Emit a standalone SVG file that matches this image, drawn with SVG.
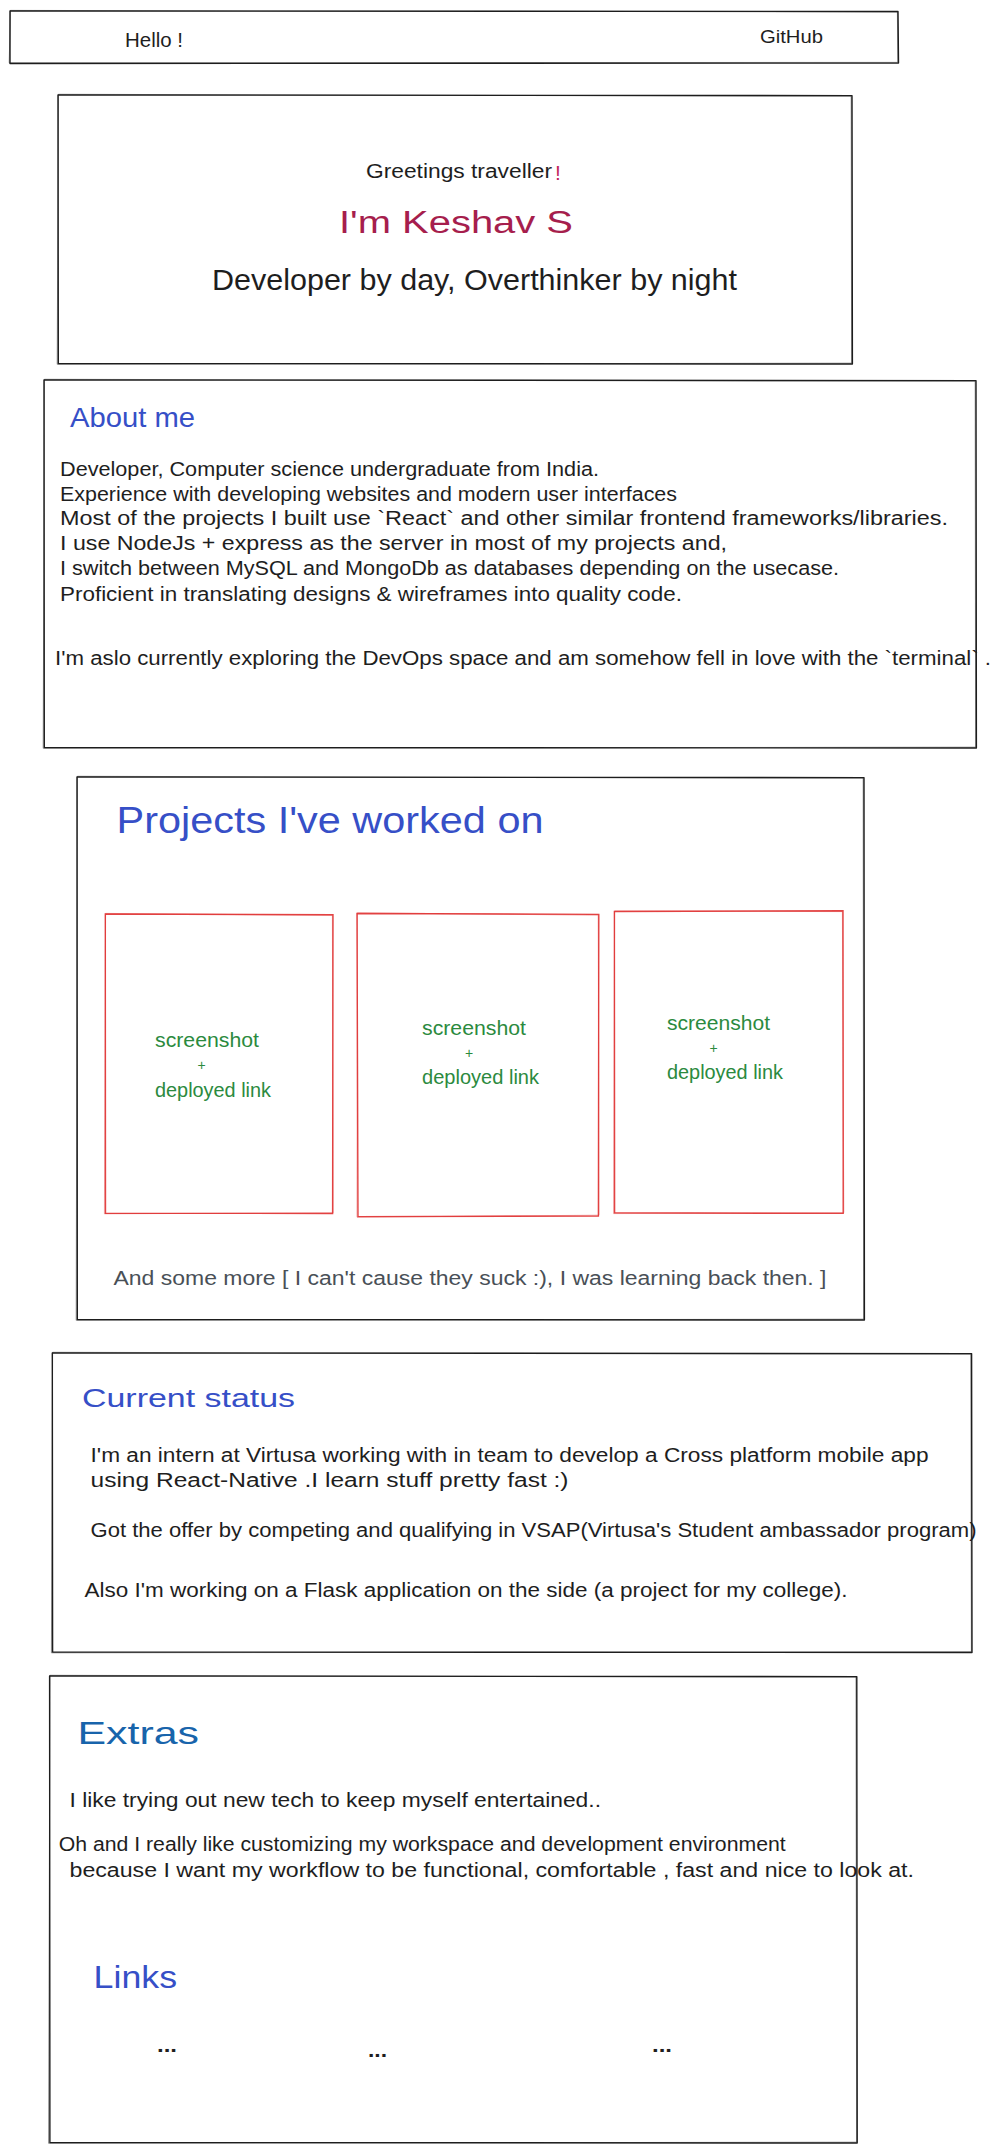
<svg xmlns="http://www.w3.org/2000/svg" width="1006" height="2153" viewBox="0 0 1006 2153">
  <style>
    .sketch { fill: none; stroke: #1e1e1e; stroke-width: 1.4; stroke-linejoin: round; stroke-linecap: round; }
    .sketch2 { fill: none; stroke: #1e1e1e; stroke-width: 0.9; stroke-opacity: 0.55; stroke-linecap: round; }
    .card { fill: none; stroke: #e03131; stroke-width: 1.4; stroke-opacity: 0.9; stroke-linecap: round; }
    .card2 { fill: none; stroke: #e03131; stroke-width: 0.9; stroke-opacity: 0.45; stroke-linecap: round; }
    text { font-family: "Liberation Sans", Arial, sans-serif; fill: #1e1e1e; }
    .t20 { font-size: 20px; }
    .t18 { font-size: 18px; }
    .blue { fill: #364fc7; }
    .navy { fill: #1864ab; }
    .green { fill: #2b8a3e; font-size: 20px; }
    .plus { fill: #2b8a3e; font-size: 14px; }
    .grey { fill: #495057; font-size: 20px; }
    .pink { fill: #a61e4d; }
  </style>

  <rect x="0" y="0" width="1006" height="2153" fill="#ffffff"/>

  <!-- top navigation bar -->
  <g id="navbar">
    <path class="sketch" d="M10,11 L898,11.5 L898.5,63 L10,63.5 Z"/>
    <path class="sketch2" d="M10.8,10.4 L897.4,12 L897.8,62.4 L9.6,62.8 Z"/>
    <text class="t20" x="125" y="47" textLength="58" lengthAdjust="spacingAndGlyphs">Hello !</text>
    <text class="t18" x="760" y="43" textLength="63" lengthAdjust="spacingAndGlyphs">GitHub</text>
  </g>

  <!-- hero / greeting -->
  <g id="hero">
    <path class="sketch" d="M58,95 L852,95.6 L852.4,364 L58.3,363.5 Z"/>
    <path class="sketch2" d="M58.8,94.3 L851.2,96.2 L851.6,363.2 L57.6,364.3 Z"/>
    <text class="t20" x="366" y="178" textLength="186" lengthAdjust="spacingAndGlyphs">Greetings traveller</text>
    <text x="555" y="180" font-size="21" fill="#c2255c" style="fill:#c2255c">!</text>
    <text class="pink" x="339" y="233" font-size="31" textLength="234" lengthAdjust="spacingAndGlyphs">I'm Keshav S</text>
    <text x="212" y="290" font-size="30" textLength="525" lengthAdjust="spacingAndGlyphs">Developer by day, Overthinker by night</text>
  </g>

  <!-- about section -->
  <g id="about">
    <path class="sketch" d="M44,380 L976,380.6 L976.4,748 L44.3,747.5 Z"/>
    <path class="sketch2" d="M44.8,379.3 L975.2,381.2 L975.6,747.2 L43.6,748.3 Z"/>
    <text class="blue" x="70" y="427" font-size="28" textLength="125" lengthAdjust="spacingAndGlyphs">About me</text>
    <text class="t20" x="60" y="476" textLength="539" lengthAdjust="spacingAndGlyphs">Developer, Computer science undergraduate from India.</text>
    <text class="t20" x="60" y="501" textLength="617" lengthAdjust="spacingAndGlyphs">Experience with developing websites and modern user interfaces</text>
    <text class="t20" x="60" y="525" textLength="888" lengthAdjust="spacingAndGlyphs">Most of the projects I built use `React` and other similar frontend frameworks/libraries.</text>
    <text class="t20" x="60" y="550" textLength="667" lengthAdjust="spacingAndGlyphs">I use NodeJs + express as the server in most of my projects and,</text>
    <text class="t20" x="60" y="575" textLength="779" lengthAdjust="spacingAndGlyphs">I switch between MySQL and MongoDb as databases depending on the usecase.</text>
    <text class="t20" x="60" y="601" textLength="622" lengthAdjust="spacingAndGlyphs">Proficient in translating designs &amp; wireframes into quality code.</text>
    <text class="t20" x="55" y="665" textLength="936" lengthAdjust="spacingAndGlyphs">I'm aslo currently exploring the DevOps space and am somehow fell in love with the `terminal` .</text>
  </g>

  <!-- projects section -->
  <g id="projects">
    <path class="sketch" d="M77,777 L864,777.6 L864.4,1320 L77.3,1319.5 Z"/>
    <path class="sketch2" d="M77.8,776.3 L863.2,778.2 L863.6,1319.2 L76.6,1320.3 Z"/>
    <text class="blue" x="116.5" y="833" font-size="36" textLength="427" lengthAdjust="spacingAndGlyphs">Projects I've worked on</text>
    <text class="grey" x="113.5" y="1285" textLength="713" lengthAdjust="spacingAndGlyphs">And some more [ I can't cause they suck :), I was learning back then. ]</text>
  </g>

  <g id="project-card-1">
    <path class="card" d="M105.3,914 L333,914.8 L332.6,1213.5 L105.5,1213.2 Z"/>
    <path class="card2" d="M106,913.4 L332.4,915.4 L333.2,1212.8 L104.8,1213.8 Z"/>
    <text class="green" x="155" y="1047" textLength="104" lengthAdjust="spacingAndGlyphs">screenshot</text>
    <text class="plus" x="197.5" y="1070">+</text>
    <text class="green" x="155" y="1097" textLength="116" lengthAdjust="spacingAndGlyphs">deployed link</text>
  </g>

  <g id="project-card-2">
    <path class="card" d="M357,913.5 L598.8,914.4 L598.4,1216 L358,1216.6 Z"/>
    <path class="card2" d="M357.8,912.8 L598.2,915.2 L599,1215.2 L357.4,1217.2 Z"/>
    <text class="green" x="422" y="1035" textLength="104" lengthAdjust="spacingAndGlyphs">screenshot</text>
    <text class="plus" x="465" y="1058">+</text>
    <text class="green" x="422" y="1084" textLength="117" lengthAdjust="spacingAndGlyphs">deployed link</text>
  </g>

  <g id="project-card-3">
    <path class="card" d="M614.4,911.5 L843,910.8 L843.2,1213.4 L614.6,1212.8 Z"/>
    <path class="card2" d="M615,910.9 L842.4,911.6 L843.8,1212.6 L614,1213.6 Z"/>
    <text class="green" x="667" y="1030" textLength="103" lengthAdjust="spacingAndGlyphs">screenshot</text>
    <text class="plus" x="709.5" y="1053">+</text>
    <text class="green" x="667" y="1079" textLength="116" lengthAdjust="spacingAndGlyphs">deployed link</text>
  </g>

  <!-- current status section -->
  <g id="status">
    <path class="sketch" d="M52.3,1353 L971.6,1353.6 L972,1652.5 L52.6,1652 Z"/>
    <path class="sketch2" d="M53,1352.3 L970.8,1354.2 L971.4,1651.8 L51.8,1652.8 Z"/>
    <text class="blue" x="82" y="1407" font-size="26" textLength="213" lengthAdjust="spacingAndGlyphs">Current status</text>
    <text class="t20" x="90.5" y="1462" textLength="838" lengthAdjust="spacingAndGlyphs">I'm an intern at Virtusa working with in team to develop a Cross platform mobile app</text>
    <text class="t20" x="90.5" y="1487" textLength="478" lengthAdjust="spacingAndGlyphs">using React-Native .I learn stuff pretty fast :)</text>
    <text class="t20" x="90.5" y="1537" textLength="886" lengthAdjust="spacingAndGlyphs">Got the offer by competing and qualifying in VSAP(Virtusa's Student ambassador program)</text>
    <text class="t20" x="84.4" y="1597" textLength="763" lengthAdjust="spacingAndGlyphs">Also I'm working on a Flask application on the side (a project for my college).</text>
  </g>

  <!-- extras and links section -->
  <g id="extras">
    <path class="sketch" d="M49.6,1676 L856.8,1676.6 L857.2,2143 L49.9,2142.5 Z"/>
    <path class="sketch2" d="M50.3,1675.3 L856,1677.2 L856.6,2142.2 L49,2143.3 Z"/>
    <text class="navy" x="77.5" y="1744" font-size="32" textLength="121.5" lengthAdjust="spacingAndGlyphs">Extras</text>
    <text class="t20" x="69.5" y="1807" textLength="531.5" lengthAdjust="spacingAndGlyphs">I like trying out new tech to keep myself entertained..</text>
    <text class="t20" x="58.7" y="1851" textLength="727" lengthAdjust="spacingAndGlyphs">Oh and I really like customizing my workspace and development environment</text>
    <text class="t20" x="69.5" y="1877" textLength="844.5" lengthAdjust="spacingAndGlyphs">because I want my workflow to be functional, comfortable , fast and nice to look at.</text>
  </g>

  <g id="links">
    <text class="blue" x="93.6" y="1988" font-size="32" textLength="83.4" lengthAdjust="spacingAndGlyphs">Links</text>
    <text class="t20" x="157" y="2052" font-weight="bold" textLength="20" lengthAdjust="spacingAndGlyphs">...</text>
    <text class="t20" x="368" y="2057" font-weight="bold" textLength="19" lengthAdjust="spacingAndGlyphs">...</text>
    <text class="t20" x="652" y="2052" font-weight="bold" textLength="20" lengthAdjust="spacingAndGlyphs">...</text>
  </g>
</svg>
